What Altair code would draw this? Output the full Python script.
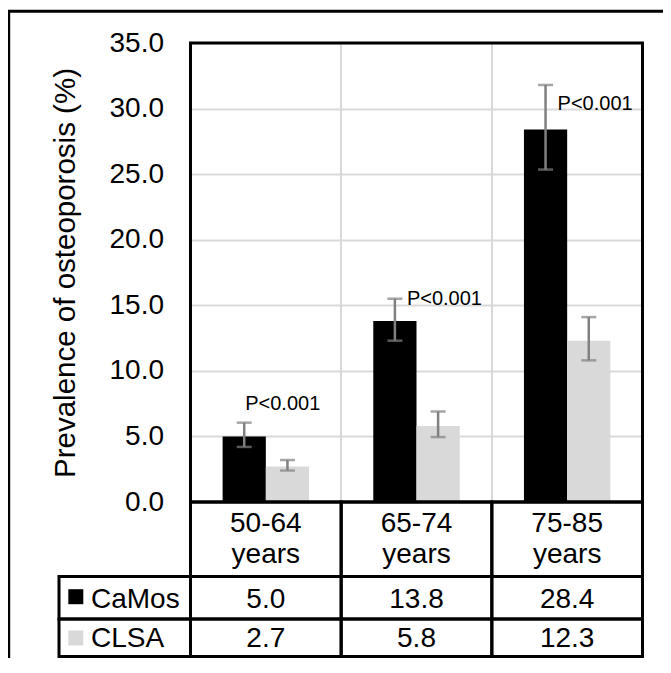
import altair as alt
import pandas as pd

# ---------------- data ----------------
categories = ["50-64 years", "65-74 years", "75-85 years"]
series = ["CaMos", "CLSA"]
camos = [5.0, 13.8, 28.4]
clsa = [2.7, 5.8, 12.3]
camos_low = [4.2, 12.3, 25.35]
camos_high = [6.05, 15.5, 31.8]
clsa_low = [2.4, 4.95, 10.8]
clsa_high = [3.2, 6.9, 14.1]
p_labels = ["P<0.001", "P<0.001", "P<0.001"]
p_label_y = [7.05, 15.0, 29.9]
colors = ["#000000", "#d9d9d9"]
y_ticks = [0, 5, 10, 15, 20, 25, 30, 35]

# ---------------- layout / style ----------------
W, H = 452, 459
FONT = "Liberation Sans"
FS = 28
GRID = "#d9d9d9"
ERR = "#808080"

rows = []
for i, c in enumerate(categories):
    rows.append({"category": c, "series": "CaMos", "value": camos[i],
                 "low": camos_low[i], "high": camos_high[i]})
    rows.append({"category": c, "series": "CLSA", "value": clsa[i],
                 "low": clsa_low[i], "high": clsa_high[i]})
df = pd.DataFrame(rows)

cat_df = pd.DataFrame({"category": categories, "CaMos": camos, "CLSA": clsa,
                       "label": p_labels, "ly": p_label_y, "series": "CaMos"})

xscale = alt.Scale(domain=categories, paddingInner=0, paddingOuter=0)
x_enc = alt.X("category:N", sort=categories, scale=xscale,
              axis=alt.Axis(title=None, labels=False, ticks=False, domain=False,
                            grid=True, gridColor=GRID, gridWidth=2, bandPosition=0))
xoff = alt.XOffset("series:N", sort=series,
                   scale=alt.Scale(domain=series, paddingInner=0, paddingOuter=0.743))
yscale = alt.Scale(domain=[0, 35], nice=False, zero=True)
y_enc = alt.Y("value:Q", scale=yscale,
              axis=alt.Axis(values=y_ticks, format=".1f",
                            title="Prevalence of osteoporosis (%)",
                            labelFont=FONT, labelFontSize=FS, labelColor="black",
                            titleFont=FONT, titleFontSize=29.5, titleColor="black",
                            titleFontWeight="normal", ticks=False, domain=False,
                            grid=True, gridColor=GRID, gridWidth=2,
                            labelPadding=27, titlePadding=29))

base = alt.Chart(df)

bars = base.mark_bar().encode(
    x=x_enc, xOffset=xoff, y=y_enc,
    color=alt.Color("series:N", scale=alt.Scale(domain=series, range=colors), legend=None),
)

err_rule = base.mark_rule(color=ERR, strokeWidth=2.5).encode(
    x=alt.X("category:N", sort=categories), xOffset=xoff,
    y=alt.Y("low:Q"), y2="high:Q")
cap_low = base.mark_tick(color=ERR, thickness=2.5, size=15).encode(
    x=alt.X("category:N", sort=categories), xOffset=xoff, y=alt.Y("low:Q"))
cap_high = base.mark_tick(color=ERR, thickness=2.5, size=15).encode(
    x=alt.X("category:N", sort=categories), xOffset=xoff, y=alt.Y("high:Q"))

cat_base = alt.Chart(cat_df)
p_first = cat_base.transform_filter(alt.datum.category == categories[0]).mark_text(
    font=FONT, fontSize=20, align="left", baseline="alphabetic", dx=1, color="black"
).encode(x=alt.X("category:N", sort=categories), xOffset=xoff,
         y=alt.Y("ly:Q"), text="label:N")
p_rest = cat_base.transform_filter(alt.datum.category != categories[0]).mark_text(
    font=FONT, fontSize=20, align="left", baseline="alphabetic", dx=12, color="black"
).encode(x=alt.X("category:N", sort=categories), xOffset=xoff,
         y=alt.Y("ly:Q"), text="label:N")

# ---------------- data table under the plot ----------------
ROW_TOPS = [H, 533.5, 576]
ROW_BOTS = [533.5, 576, 613.5]
LABEL_LEFT = -131.5

def cell_rects(top, bot):
    return cat_base.mark_rect(fillOpacity=0, stroke="black", strokeWidth=3).encode(
        x=alt.X("category:N", sort=categories), y=alt.value(top), y2=alt.value(bot))

header_text = cat_base.mark_text(
    font=FONT, fontSize=FS, baseline="alphabetic", lineBreak=" ", lineHeight=31.6,
    color="black").encode(x=alt.X("category:N", sort=categories),
                          y=alt.value(488.7), text="category:N")

def value_row(name, baseline_y):
    return cat_base.mark_text(font=FONT, fontSize=FS, baseline="alphabetic",
                              color="black").encode(
        x=alt.X("category:N", sort=categories), y=alt.value(baseline_y),
        text=alt.Text(f"{name}:Q", format=".1f"))

def label_cell(idx, top, bot, baseline_y, sq_y):
    d = alt.Chart(pd.DataFrame({"series": [series[idx]]}))
    box = d.mark_rect(fillOpacity=0, stroke="black", strokeWidth=3).encode(
        x=alt.value(LABEL_LEFT), x2=alt.value(0), y=alt.value(top), y2=alt.value(bot))
    sq = d.mark_square(size=225, opacity=1).encode(
        x=alt.value(-114.7), y=alt.value(sq_y),
        color=alt.Color("series:N", scale=alt.Scale(domain=series, range=colors), legend=None))
    txt = d.mark_text(font=FONT, fontSize=FS, align="left", baseline="alphabetic",
                      color="black").encode(
        x=alt.value(-99.5), y=alt.value(baseline_y), text="series:N")
    return box + sq + txt

dummy = alt.Chart(pd.DataFrame({"a": [0]}))
plot_frame = dummy.mark_rect(fillOpacity=0, stroke="black", strokeWidth=3).encode(
    x=alt.value(0), x2=alt.value(W), y=alt.value(0), y2=alt.value(H))
outer_frame = dummy.mark_rect(fillOpacity=0, stroke="black", strokeWidth=3).encode(
    x=alt.value(-181.8), x2=alt.value(W + 200), y=alt.value(-31.8), y2=alt.value(H + 400))

chart = alt.layer(
    bars, err_rule, cap_low, cap_high, p_first, p_rest,
    cell_rects(ROW_TOPS[0], ROW_BOTS[0]),
    cell_rects(ROW_TOPS[1], ROW_BOTS[1]),
    cell_rects(ROW_TOPS[2], ROW_BOTS[2]),
    header_text,
    value_row("CaMos", 565.0), value_row("CLSA", 604.0),
    label_cell(0, ROW_TOPS[1], ROW_BOTS[1], 565.0, 553.7),
    label_cell(1, ROW_TOPS[2], ROW_BOTS[2], 604.0, 595.0),
    plot_frame, outer_frame,
).properties(
    width=W, height=H,
    autosize=alt.AutoSizeParams(type="none"),
    padding={"left": 182.5, "top": 35, "right": 20.5, "bottom": 156},
    background="white",
).configure_view(stroke="transparent")

chart.save("out.html", embed_options={"renderer": "svg", "actions": False})
